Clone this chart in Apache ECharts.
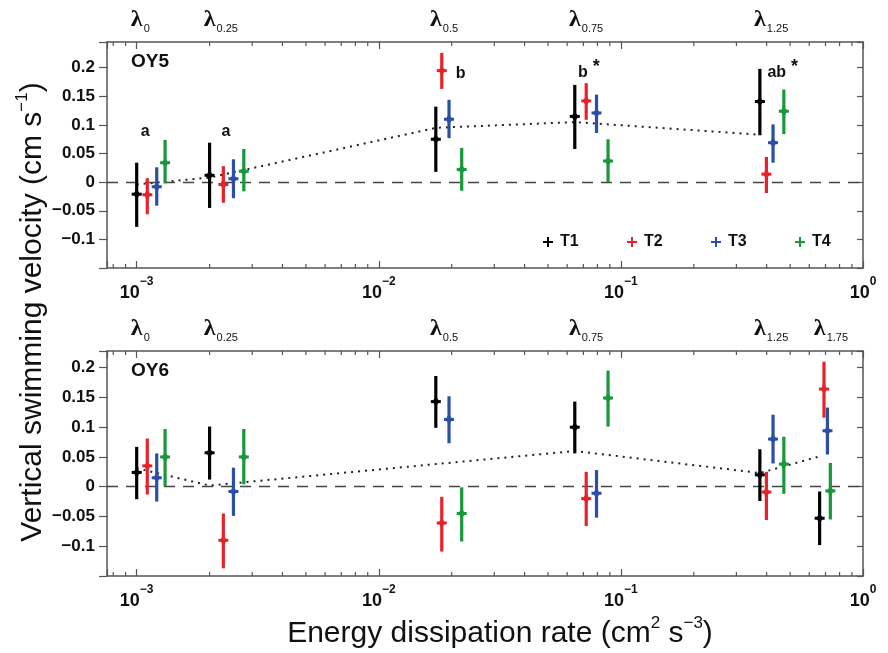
<!DOCTYPE html>
<html>
<head>
<meta charset="utf-8">
<script src="https://cdn.jsdelivr.net/npm/echarts@6/dist/echarts.min.js"></script>
<style>
  html, body { margin: 0; padding: 0; background: #fff; }
  #chart { width: 888px; height: 653px; }
</style>
</head>
<body>
<div id="chart"></div>
<script>
// energy dissipation rate of each treatment marker (same in both panels)
var xT1 = [1.0e-3, 2.0e-3, 0.0172, 0.0645, 0.375, 0.662];
var xT2 = [1.106e-3, 2.28e-3, 0.0182, 0.0719, 0.399, 0.690];
var xT3 = [1.21e-3, 2.51e-3, 0.0195, 0.0793, 0.425, 0.713];
var xT4 = [1.31e-3, 2.77e-3, 0.0220, 0.0885, 0.471, 0.733];
var lambdaSubs = ['0', '0.25', '0.5', '0.75', '1.25', '1.75'];

// OY5 (top panel, 5 turbulence levels)
var oy5T1Mean = [-0.021, 0.012, 0.075, 0.115, 0.141];
var oy5T1Lo = [-0.078, -0.045, 0.018, 0.058, 0.082];
var oy5T1Hi = [0.034, 0.069, 0.132, 0.170, 0.198];
var oy5T2Mean = [-0.022, -0.004, 0.195, 0.142, 0.014];
var oy5T2Lo = [-0.056, -0.036, 0.163, 0.109, -0.019];
var oy5T2Hi = [0.007, 0.028, 0.226, 0.173, 0.044];
var oy5T3Mean = [-0.008, 0.006, 0.110, 0.121, 0.069];
var oy5T3Lo = [-0.041, -0.028, 0.077, 0.086, 0.034];
var oy5T3Hi = [0.026, 0.040, 0.144, 0.153, 0.101];
var oy5T4Mean = [0.034, 0.019, 0.022, 0.037, 0.124];
var oy5T4Lo = [-0.002, -0.016, -0.015, 0.000, 0.084];
var oy5T4Hi = [0.074, 0.058, 0.060, 0.075, 0.162];
var oy5Trend = [-0.004, 0.008, 0.095, 0.105, 0.083];

// OY6 (bottom panel, 6 turbulence levels)
var oy6T1Mean = [0.024, 0.057, 0.143, 0.100, 0.020, -0.053];
var oy6T1Lo = [-0.021, 0.012, 0.099, 0.056, -0.024, -0.098];
var oy6T1Hi = [0.067, 0.101, 0.186, 0.143, 0.063, -0.008];
var oy6T2Mean = [0.035, -0.090, -0.061, -0.020, -0.009, 0.164];
var oy6T2Lo = [-0.013, -0.137, -0.109, -0.066, -0.056, 0.116];
var oy6T2Hi = [0.081, -0.045, -0.017, 0.025, 0.025, 0.210];
var oy6T3Mean = [0.015, -0.008, 0.113, -0.011, 0.080, 0.094];
var oy6T3Lo = [-0.025, -0.049, 0.073, -0.052, 0.039, 0.054];
var oy6T3Hi = [0.056, 0.032, 0.152, 0.028, 0.121, 0.133];
var oy6T4Mean = [0.050, 0.050, -0.045, 0.149, 0.038, -0.007];
var oy6T4Lo = [0.001, 0.004, -0.092, 0.101, -0.012, -0.055];
var oy6T4Hi = [0.097, 0.097, -0.001, 0.195, 0.084, 0.040];
var oy6Trend = [0.031, 0.002, 0.038, 0.060, 0.023, 0.051];

// significance letters in the top panel
var annotX = [1.04e-3, 2.24e-3, 0.0208, 0.0665, 0.403];
var annotY = [0.094, 0.094, 0.195, 0.197, 0.197];
var annotText = ['a', 'a', 'b', 'b', 'ab'];
var annotStar = [false, false, false, true, true];

var xMin = 7.54e-4, xMax = 1;
var FONT = '"Liberation Sans", Arial, Helvetica, sans-serif';
var FRAME = '#555';
var colors = ['#000000', '#e8222b', '#2b4ea6', '#17983b'];
var names = ['T1', 'T2', 'T3', 'T4'];

var chart = echarts.init(document.getElementById('chart'), null, {renderer: 'canvas'});

function rows(xs, mean, lo, hi) {
  return mean.map(function(m, i) { return [xs[i], m, lo[i], hi[i]]; });
}

function renderErrorBar(params, api) {
  var x = api.value(0);
  var c = api.coord([x, api.value(1)]);
  var lo = api.coord([x, api.value(2)]);
  var hi = api.coord([x, api.value(3)]);
  var color = api.visual('color');
  return {
    type: 'group',
    children: [
      {type: 'line', shape: {x1: lo[0], y1: lo[1], x2: hi[0], y2: hi[1]}, style: {stroke: color, lineWidth: 3.2}},
      {type: 'line', shape: {x1: c[0] - 5, y1: c[1], x2: c[0] + 5, y2: c[1]}, style: {stroke: color, lineWidth: 3}},
      {type: 'polygon', shape: {points: [[c[0], c[1] - 5], [c[0] + 3.5, c[1]], [c[0], c[1] + 5], [c[0] - 3.5, c[1]]]},
        style: {fill: color}}
    ]
  };
}

function renderMinorTick(params, api) {
  var p = api.coord([api.value(0), 0]);
  var cs = params.coordSys;
  var st = {stroke: FRAME, lineWidth: 1.2};
  return {
    type: 'group',
    children: [
      {type: 'line', shape: {x1: p[0], y1: cs.y + cs.height, x2: p[0], y2: cs.y + cs.height - 4}, style: st},
      {type: 'line', shape: {x1: p[0], y1: cs.y, x2: p[0], y2: cs.y + 4}, style: st}
    ]
  };
}

function renderLambda(params, api) {
  var p = api.coord([api.value(0), 0]);
  var cs = params.coordSys;
  return {
    type: 'group',
    children: [
      {type: 'text', x: p[0], y: cs.y - 10,
        style: {text: 'λ', font: 'bold 24px "Liberation Serif", serif', align: 'center', verticalAlign: 'bottom', fill: '#111'}},
      {type: 'text', x: p[0] + 7, y: cs.y - 8,
        style: {text: lambdaSubs[params.dataIndex], font: '11px ' + FONT, align: 'left', verticalAlign: 'bottom', fill: '#111'}}
    ]
  };
}

function renderAnnot(params, api) {
  var p = api.coord([api.value(0), api.value(1)]);
  var i = params.dataIndex;
  var txt = '{n|' + annotText[i] + '}' + (annotStar[i] ? '{s| *}' : '');
  return {
    type: 'text', x: p[0], y: p[1],
    style: {
      text: txt, align: 'left', verticalAlign: 'middle', fill: '#111',
      rich: {
        n: {font: 'bold 16px ' + FONT, lineHeight: 22, verticalAlign: 'bottom'},
        s: {font: 'bold 18px ' + FONT, lineHeight: 22, verticalAlign: 'top', padding: [0, 0, 6, 0]}
      }
    }
  };
}

function minorTickValues() {
  var out = [];
  for (var k = -4; k < 0; k++) {
    for (var m = 2; m <= 9; m++) {
      var v = m * Math.pow(10, k);
      if (v > xMin && v < xMax) out.push([v, 0]);
    }
  }
  return out;
}

function xLabel(value) {
  var lg = Math.log(value) / Math.LN10;
  var e = Math.round(lg);
  if (Math.abs(lg - e) > 1e-6) return '';
  return '{b|10}{s|' + (e < 0 ? '\u2212' + (-e) : e) + '}';
}

function yLabel(value) {
  var v = Math.round(value * 100) / 100;
  if (v < -0.12 || v > 0.21) return '';
  return String(v).replace('-', '\u2212');
}

var grids = [
  {left: 107, top: 42, width: 756, height: 226},
  {left: 107, top: 351, width: 756, height: 225}
];
var yMaxes = [0.245, 0.228];

var xAxes = [], yAxes = [];
grids.forEach(function(g, gi) {
  ['bottom', 'top'].forEach(function(pos) {
    xAxes.push({
      type: 'log', logBase: 10, gridIndex: gi, position: pos, min: xMin, max: xMax,
      axisLine: {show: true, onZero: false, lineStyle: {color: FRAME, width: 1.5}},
      axisTick: {show: true, inside: true, length: 7, lineStyle: {color: FRAME, width: 1.2}},
      axisLabel: {
        show: pos === 'bottom', margin: 8, formatter: xLabel, color: '#111',
        rich: {
          b: {fontFamily: FONT, fontWeight: 'bold', fontSize: 18, color: '#111', lineHeight: 26, verticalAlign: 'bottom'},
          s: {fontFamily: FONT, fontWeight: 'bold', fontSize: 12, color: '#111', lineHeight: 26, verticalAlign: 'top'}
        }
      },
      splitLine: {show: false},
      minorTick: {show: false}
    });
  });
  ['left', 'right'].forEach(function(pos) {
    yAxes.push({
      type: 'value', gridIndex: gi, position: pos, min: -0.15, max: yMaxes[gi], interval: 0.05,
      axisLine: {show: true, onZero: false, lineStyle: {color: FRAME, width: 1.5}},
      axisTick: {show: true, inside: pos === 'right', length: pos === 'left' ? 8 : 6,
        lineStyle: {color: FRAME, width: 1.2}},
      axisLabel: {show: pos === 'left', margin: 12, formatter: yLabel, color: '#111',
        fontFamily: FONT, fontWeight: 'bold', fontSize: 17},
      splitLine: {show: false}
    });
  });
});

var panels = [
  {grid: 0, n: 5, trend: oy5Trend,
    sets: [[oy5T1Mean, oy5T1Lo, oy5T1Hi], [oy5T2Mean, oy5T2Lo, oy5T2Hi],
      [oy5T3Mean, oy5T3Lo, oy5T3Hi], [oy5T4Mean, oy5T4Lo, oy5T4Hi]]},
  {grid: 1, n: 6, trend: oy6Trend,
    sets: [[oy6T1Mean, oy6T1Lo, oy6T1Hi], [oy6T2Mean, oy6T2Lo, oy6T2Hi],
      [oy6T3Mean, oy6T3Lo, oy6T3Hi], [oy6T4Mean, oy6T4Lo, oy6T4Hi]]}
];
var xsets = [xT1, xT2, xT3, xT4];

var series = [];
panels.forEach(function(p) {
  var xi = p.grid * 2, yi = p.grid * 2;
  p.sets.forEach(function(s, k) {
    series.push({
      type: 'custom', name: names[k], xAxisIndex: xi, yAxisIndex: yi, z: 5,
      itemStyle: {color: colors[k]},
      renderItem: renderErrorBar, encode: {x: 0, y: [1, 2, 3]},
      data: rows(xsets[k], s[0], s[1], s[2])
    });
  });
  series.push({
    type: 'line', name: 'trend' + p.grid, xAxisIndex: xi, yAxisIndex: yi, z: 2,
    symbol: 'none', silent: true,
    lineStyle: {color: '#222', width: 2, type: [2, 5]},
    data: p.trend.map(function(v, i) { return [xT1[i], v]; }),
    markLine: {
      silent: true, symbol: 'none', label: {show: false},
      lineStyle: {color: '#444', width: 1.3, type: [11, 8]},
      data: [{yAxis: 0}]
    }
  });
  series.push({
    type: 'custom', name: 'minor' + p.grid, xAxisIndex: xi, yAxisIndex: yi, silent: true,
    renderItem: renderMinorTick, encode: {x: 0, y: 1}, data: minorTickValues()
  });
  series.push({
    type: 'custom', name: 'lambda' + p.grid, xAxisIndex: xi, yAxisIndex: yi, silent: true,
    renderItem: renderLambda, encode: {x: 0, y: 1},
    data: xT1.slice(0, p.n).map(function(x) { return [x, 0]; })
  });
});
series.push({
  type: 'custom', name: 'letters', xAxisIndex: 0, yAxisIndex: 0, silent: true, z: 6,
  renderItem: renderAnnot, encode: {x: 0, y: 1},
  data: annotX.map(function(x, i) { return [x, annotY[i]]; })
});

var plusIcon = 'path://M4,0H6V4H10V6H6V10H4V6H0V4H4Z';
var legendLeft = [543, 627, 711, 795];

chart.setOption({
  backgroundColor: '#fff',
  animation: false,
  grid: grids,
  xAxis: xAxes,
  yAxis: yAxes,
  title: [
    {text: 'OY5', left: 131, top: 52, padding: 0,
      textStyle: {fontFamily: FONT, fontWeight: 'bold', fontSize: 19, color: '#111'}},
    {text: 'OY6', left: 131, top: 361, padding: 0,
      textStyle: {fontFamily: FONT, fontWeight: 'bold', fontSize: 19, color: '#111'}}
  ],
  legend: names.map(function(n, i) {
    return {
      data: [n], left: legendLeft[i], top: 234, padding: 0, itemWidth: 10, itemHeight: 10,
      icon: plusIcon, itemGap: 0, selectedMode: false,
      textStyle: {fontFamily: FONT, fontWeight: 'bold', fontSize: 16, color: '#111', padding: [0, 0, 0, 2]}
    };
  }),
  graphic: [
    {type: 'text', x: 31, y: 312, rotation: Math.PI / 2,
      style: {
        text: '{a|Vertical swimming velocity (cm s}{s|\u22121}{a|)}',
        align: 'center', verticalAlign: 'middle', fill: '#111',
        rich: {
          a: {font: '30px ' + FONT, lineHeight: 34, verticalAlign: 'bottom'},
          s: {font: '17px ' + FONT, lineHeight: 34, verticalAlign: 'top'}
        }
      }},
    {type: 'text', x: 500, y: 632,
      style: {
        text: '{a|Energy dissipation rate (cm}{s|2}{a| s}{s|\u22123}{a|)}',
        align: 'center', verticalAlign: 'middle', fill: '#111',
        rich: {
          a: {font: '30px ' + FONT, lineHeight: 34, verticalAlign: 'bottom'},
          s: {font: '17px ' + FONT, lineHeight: 34, verticalAlign: 'top'}
        }
      }}
  ],
  series: series
});
</script>
</body>
</html>
